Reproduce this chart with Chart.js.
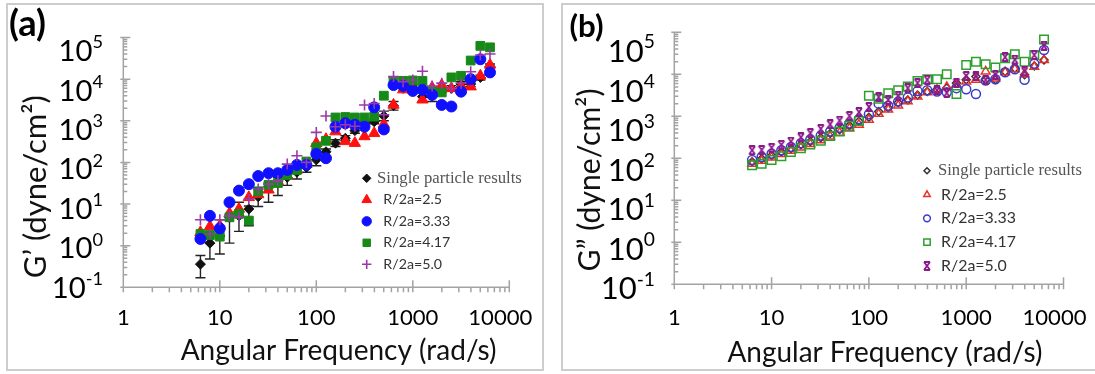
<!DOCTYPE html>
<html>
<head>
<meta charset="utf-8">
<script src="https://cdn.jsdelivr.net/npm/chart.js@4.4.1/dist/chart.umd.min.js"></script>
<style>
  html, body { margin: 0; padding: 0; background: #fff; }
  #wrap { position: relative; width: 1095px; height: 374px; overflow: hidden; }
  .panel { position: absolute; border: 2px solid #cdcdcd; box-sizing: border-box; }
  canvas { position: absolute; left: 0; top: 0; }
</style>
</head>
<body>
<div id="wrap">
  <div class="panel" style="left:6px;top:3px;width:538px;height:368px"></div>
  <div class="panel" style="left:561px;top:3px;width:536px;height:368px"></div>
  <canvas id="chartA" width="1095" height="374"></canvas>
  <canvas id="chartB" width="1095" height="374"></canvas>
</div>
<script>
// angular frequency (rad/s), 10 points per decade
var freq = [6.3, 7.9, 10, 12.6, 15.8, 20, 25, 32, 40, 50, 63, 79, 100, 126, 158, 200, 251, 316, 398, 501,
            631, 794, 1000, 1259, 1585, 1995, 2512, 3162, 3981, 5012, 6310];

// (a) G' (dyne/cm2)
var singleA     = [0.36, 1.15, 1.7, 4.8, 5.2, 7.6, 15, 26, 32, 44, 58, 76, 115, 180, 290, 380, 580, 890, 950, 1300,
                   2300, 6000, 6300, 3800, 4000, 5500, 6000, 7600, 7600, 11000, 20000];
var singleLowA  = [0.17, 0.48, 0.63, 1.15, 2.2, 3, 8.7, 11, 16, 28, 40, 58, 83, 130, 240, 330, 500, 780, 850, 1000,
                   1800, 5200, 5500, 2900, 2900, 4800, 5200, 6600, 6600, 9500, 17000];
var singleHighA = [0.58, 1.9, 4.2, 10.5, 11, 9, 25, 32, 44, 52, 70, 91, 145, 210, 350, 440, 680, 1000, 1100, 1700,
                   2900, 6900, 7200, 4800, 5300, 6300, 7000, 8700, 8700, 12500, 23000];
var r25A  = [2.1, 2.9, 3.0, 6.0, 7.6, 14.5, 17, 22, 35, 48, 66, 91, 290, 360, 550, 320, 290, 420, 500, 830,
             2400, 5600, 6000, 3200, 6300, 7200, 6000, 6800, 6600, 12000, 22000];
var r333A = [1.45, 5.2, 2.6, 11, 21, 30, 47, 55, 55, 66, 87, 87, 160, 126, 720, 870, 800, 720, 2100, 620,
             7200, 6900, 5200, 5500, 4200, 2400, 2200, 5000, 10000, 30000, 14500];
var r417A = [1.9, 1.8, 1.65, 4.8, 5.8, 4.0, 20, 29, 32, 50, 66, 105, 230, 330, 1200, 1230, 1200, 1200, 1260, 4000,
             9100, 9100, 9300, 9100, 5200, 4800, 11000, 12000, 28000, 63000, 58000];
var r50A  = [4.2, 1.9, 4.2, 5.2, 4.8, 13, 23, 30, 36, 91, 145, 100, 525, 1300, 720, 800, 740, 2400, 2600, 1400,
             11500, 8700, 9500, 15500, 6800, 8000, 6000, 8000, 15000, 38000, 40000];

// (b) G'' (dyne/cm2)
var singleB = [83, 98, 117, 141, 170, 210, 250, 310, 390, 480, 600, 760, 950, 1300, 1600, 2100, 2450, 3200, 3900, 4300,
               4700, 6200, 7400, 8900, 7400, 7400, 11700, 14000, 9800, 15800, 22000];
var r25B  = [74, 87, 105, 126, 151, 182, 219, 269, 331, 407, 513, 631, 832, 1150, 1450, 1820, 2290, 2950, 3720, 4270,
             5000, 5750, 6760, 7400, 11700, 7900, 11200, 13200, 10000, 15100, 21900];
var r333B = [91, 107, 129, 155, 186, 229, 282, 347, 437, 537, 676, 851, 1120, 2000, 1780, 2240, 2820, 3980, 4170, 3890,
             3720, 4680, 4400, 3400, 7080, 7590, 11200, 13200, 7400, 17800, 38000];
var r417B = [68, 74, 91, 112, 141, 174, 214, 263, 339, 437, 589, 776, 3090, 2630, 3550, 4170, 5130, 6920, 7590, 7590,
             10000, 3390, 16600, 20000, 17400, 14500, 24000, 30200, 20000, 28800, 67600];
var r50B  = [155, 158, 178, 209, 251, 316, 398, 501, 646, 794, 1020, 1260, 1660, 2880, 2450, 3090, 4680, 6170, 7410, 4170,
             3630, 6170, 9120, 8910, 7410, 9770, 25700, 22400, 11700, 28800, 47900];

var seriesNames = ['Single particle results', 'R/2a=2.5', 'R/2a=3.33', 'R/2a=4.17', 'R/2a=5.0'];
var xTickValues = [1, 10, 100, 1000, 10000];
var xTickLabels = ['1', '10', '100', '1000', '10000'];
var yTickExps   = ['5', '4', '3', '2', '1', '0', '-1'];

var SANS = 'Lato';
var SERIF = '"Liberation Serif"';

function pts(vals) {
  return freq.map(function(f, i) { return { x: f, y: vals[i] }; });
}

// font size so that text gets a given width
function fitFont(ctx, text, family, weight, width) {
  ctx.font = weight + ' 100px ' + family;
  var w = ctx.measureText(text).width;
  return { size: 100 * width / w, css: weight + ' ' + (100 * width / w).toFixed(2) + 'px ' + family };
}

// open hourglass-x marker used in panel (b)
function hourglass(color, s) {
  var c = document.createElement('canvas');
  c.width = s; c.height = s;
  var g = c.getContext('2d');
  g.strokeStyle = color; g.lineWidth = 1.8;
  g.beginPath();
  g.moveTo(2, 1); g.lineTo(s - 2, 1);
  g.moveTo(2, s - 1); g.lineTo(s - 2, s - 1);
  g.moveTo(2, 1); g.lineTo(s - 2, s - 1);
  g.moveTo(s - 2, 1); g.lineTo(2, s - 1);
  g.stroke();
  return c;
}

var paperAxes = {
  id: 'paperAxes',
  beforeDatasetsDraw: function(chart, args, o) {
    if (!o.errLow) return;
    var ctx = chart.ctx, xs = chart.scales.x, ys = chart.scales.y;
    ctx.save();
    ctx.strokeStyle = '#222'; ctx.lineWidth = 1.4;
    for (var i = 0; i < freq.length; i++) {
      var px = xs.getPixelForValue(freq[i]);
      var lo = ys.getPixelForValue(o.errLow[i]), hi = ys.getPixelForValue(o.errHigh[i]);
      ctx.beginPath();
      ctx.moveTo(px, lo); ctx.lineTo(px, hi);
      ctx.moveTo(px - 5, lo); ctx.lineTo(px + 5, lo);
      ctx.moveTo(px - 5, hi); ctx.lineTo(px + 5, hi);
      ctx.stroke();
    }
    ctx.restore();
  },
  afterDraw: function(chart, args, o) {
    var ctx = chart.ctx, xs = chart.scales.x, ys = chart.scales.y, a = chart.chartArea;
    ctx.save();

    // axis lines and ticks
    ctx.strokeStyle = '#a3a3a3'; ctx.lineWidth = 1.5;
    ctx.beginPath();
    ctx.moveTo(a.left, a.bottom); ctx.lineTo(a.right, a.bottom);
    ctx.moveTo(a.left, a.top); ctx.lineTo(a.left, a.bottom + 5);
    var d, m, v, p;
    for (d = 0; d < 4; d++) {
      for (m = 1; m <= 10; m++) {
        v = m * Math.pow(10, d);
        p = xs.getPixelForValue(v);
        if (m === 1 || m === 10) { ctx.moveTo(p, a.bottom - 7); ctx.lineTo(p, a.bottom + 5); }
        else { ctx.moveTo(p, a.bottom); ctx.lineTo(p, a.bottom + 5); }
      }
    }
    for (d = -1; d < 5; d++) {
      for (m = 1; m <= 10; m++) {
        v = m * Math.pow(10, d);
        p = ys.getPixelForValue(v);
        if (m === 1 || m === 10) { ctx.moveTo(a.left - 3, p); ctx.lineTo(a.left + 7, p); }
        else { ctx.moveTo(a.left, p); ctx.lineTo(a.left + 4, p); }
      }
    }
    ctx.stroke();

    ctx.fillStyle = '#000';
    ctx.textBaseline = 'alphabetic';

    // x tick labels
    var xf = fitFont(ctx, '10000', SANS, 'normal', o.xLabWidth);
    ctx.font = xf.css; ctx.textAlign = 'center';
    xTickValues.forEach(function(tv, i) {
      var px = xs.getPixelForValue(tv) + (i === xTickValues.length - 1 ? o.lastXShift : 0);
      ctx.fillText(xTickLabels[i], px, o.xLabY + 0.36 * xf.size);
    });

    // y tick labels 10^n
    var bf = fitFont(ctx, '10', SANS, 'normal', o.yBaseWidth);
    var ef = { size: bf.size * 0.62, css: 'normal ' + (bf.size * 0.62).toFixed(2) + 'px ' + SANS };
    ctx.textAlign = 'left';
    yTickExps.forEach(function(e, i) {
      var py = ys.getPixelForValue(Math.pow(10, Number(e)));
      var cy = py + o.yShift[0] + (o.yShift[1] - o.yShift[0]) * i / (yTickExps.length - 1);
      ctx.font = ef.css; var ew = ctx.measureText(e).width;
      ctx.font = bf.css; var bw = ctx.measureText('10').width;
      ctx.fillText('10', o.yLabRight - ew - bw, cy + 0.36 * bf.size);
      ctx.font = ef.css;
      ctx.fillText(e, o.yLabRight - ew, cy - 0.3 * bf.size + 0.36 * ef.size);
    });

    // axis titles
    var tf = fitFont(ctx, o.xTitle, SANS, 'normal', o.xTitleWidth);
    ctx.font = tf.css; ctx.textAlign = 'center'; ctx.fillStyle = '#111';
    ctx.fillText(o.xTitle, o.xTitleX, o.xTitleBase);
    var yf = fitFont(ctx, o.yTitle, SANS, 'normal', o.yTitleLen);
    ctx.save();
    ctx.translate(o.yTitleX, o.yTitleY);
    ctx.rotate(-Math.PI / 2);
    ctx.font = yf.css; ctx.textBaseline = 'middle';
    ctx.fillText(o.yTitle, 0, 0);
    ctx.restore();

    // panel letter
    var pf = fitFont(ctx, o.panel, SANS, 'bold', o.panelWidth);
    ctx.font = pf.css; ctx.textAlign = 'left'; ctx.textBaseline = 'middle'; ctx.fillStyle = '#000';
    ctx.fillText(o.panel, o.panelX, o.panelY);

    // legend
    var sf = fitFont(ctx, seriesNames[0], SERIF, 'normal', o.legSerifWidth);
    var lf = fitFont(ctx, seriesNames[2], SANS, 'normal', o.legSansWidth);
    chart.data.datasets.forEach(function(ds, i) {
      var y = o.legTop + i * o.legGap;
      ctx.save();
      ctx.fillStyle = ds.backgroundColor; ctx.strokeStyle = ds.borderColor;
      ctx.lineWidth = ds.pointBorderWidth;
      Chart.helpers.drawPoint(ctx, {
        pointStyle: ds.pointStyle, radius: ds.pointRadius * o.legScale,
        rotation: 0, borderWidth: ds.pointBorderWidth
      }, o.legMarkX, y);
      ctx.restore();
      ctx.textBaseline = 'middle'; ctx.textAlign = 'left';
      if (i === 0) { ctx.font = sf.css; ctx.fillStyle = '#555'; ctx.fillText(ds.label, o.legSerifX, y); }
      else { ctx.font = lf.css; ctx.fillStyle = '#333'; ctx.fillText(ds.label, o.legTextX, y); }
    });

    ctx.restore();
  }
};

function makeChart(id, datasets, pad, opts) {
  return new Chart(document.getElementById(id), {
    type: 'scatter',
    data: { datasets: datasets },
    options: {
      responsive: false,
      animation: false,
      devicePixelRatio: 1,
      layout: { padding: pad },
      scales: {
        x: { type: 'logarithmic', min: 1, max: 10000, display: false },
        y: { type: 'logarithmic', min: 0.1, max: 100000, display: false }
      },
      plugins: { legend: { display: false }, tooltip: { enabled: false }, paperAxes: opts }
    },
    plugins: [paperAxes]
  });
}

function ds(label, vals, style, radius, fill, line, bw, order) {
  return { label: label, data: pts(vals), pointStyle: style, pointRadius: radius,
           backgroundColor: fill, borderColor: line, pointBorderWidth: bw, borderWidth: bw,
           clip: false, order: order };
}

makeChart('chartA', [
  ds(seriesNames[0], singleA, 'rectRot', 5, '#111', '#111', 1, 5),
  ds(seriesNames[1], r25A, 'triangle', 6.5, '#ff1010', '#ff1010', 1, 4),
  ds(seriesNames[2], r333A, 'circle', 5.5, '#1010ff', '#1010ff', 1, 2),
  ds(seriesNames[3], r417A, 'rect', 6.2, '#168a16', '#168a16', 1, 3),
  ds(seriesNames[4], r50A, 'cross', 5.5, '#9a3aa8', '#9a3aa8', 1.6, 1)
], { left: 123.3, top: 37.5, right: 1095 - 509.3, bottom: 374 - 287.3 }, {
  errLow: singleLowA, errHigh: singleHighA,
  xLabWidth: 64, xLabY: 317, lastXShift: -9,
  yBaseWidth: 34, yLabRight: 103, yShift: [13, 0],
  xTitle: 'Angular Frequency (rad/s)', xTitleWidth: 316, xTitleX: 338.6, xTitleBase: 360,
  yTitle: 'G\u2019 (dyne/cm\u00b2)', yTitleLen: 183, yTitleX: 36, yTitleY: 186.7,
  panel: '(a)', panelWidth: 37, panelX: 9, panelY: 24,
  legSerifWidth: 145, legSansWidth: 67, legTop: 178.3, legGap: 21.5,
  legMarkX: 366.7, legSerifX: 377, legTextX: 383.3, legScale: 0.85
});

var hgB = hourglass('#8a1a8a', 10);
makeChart('chartB', [
  ds(seriesNames[0], singleB, 'rectRot', 4, 'rgba(0,0,0,0)', '#333', 1.5, 5),
  ds(seriesNames[1], r25B, 'triangle', 5, 'rgba(0,0,0,0)', '#e8302a', 1.5, 4),
  ds(seriesNames[2], r333B, 'circle', 4.5, 'rgba(0,0,0,0)', '#3a3acc', 1.5, 3),
  ds(seriesNames[3], r417B, 'rect', 6, 'rgba(0,0,0,0)', '#2ca02c', 1.5, 2),
  ds(seriesNames[4], r50B, hgB, 5, '#8a1a8a', '#8a1a8a', 1.5, 1)
], { left: 674.3, top: 32.3, right: 1095 - 1063.5, bottom: 374 - 284.3 }, {
  xLabWidth: 64, xLabY: 317, lastXShift: -9,
  yBaseWidth: 36, yLabRight: 655, yShift: [18.5, 4],
  xTitle: 'Angular Frequency (rad/s)', xTitleWidth: 315, xTitleX: 885, xTitleBase: 362,
  yTitle: 'G\u201d (dyne/cm\u00b2)', yTitleLen: 183, yTitleX: 590.6, yTitleY: 180,
  panel: '(b)', panelWidth: 34, panelX: 569.5, panelY: 26.5,
  legSerifWidth: 144, legSansWidth: 75, legTop: 170.7, legGap: 23.8,
  legMarkX: 927, legSerifX: 938, legTextX: 941, legScale: 0.75
});
</script>
</body>
</html>
